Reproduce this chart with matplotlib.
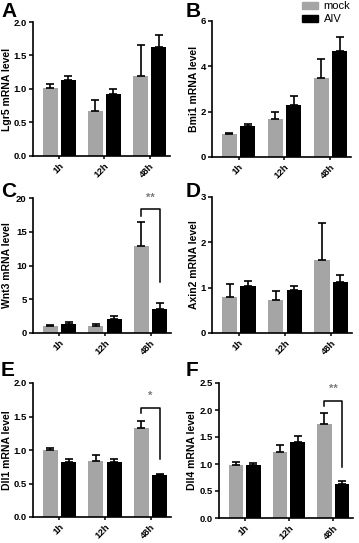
import numpy as np
import matplotlib
matplotlib.use("Agg")
import matplotlib.pyplot as plt
from matplotlib.patches import Patch

plt.rcParams['font.family'] = ['Liberation Sans', 'DejaVu Sans']
plt.rcParams['font.weight'] = 'bold'

groups = ['1h', '12h', '48h']

lgr5_mock = [1.01, 0.67, 1.19]
lgr5_mock_err = [0.07, 0.17, 0.46]
lgr5_aiv = [1.13, 0.93, 1.62]
lgr5_aiv_err = [0.06, 0.07, 0.18]

bmi1_mock = [1.00, 1.67, 3.47]
bmi1_mock_err = [0.07, 0.32, 0.85]
bmi1_aiv = [1.36, 2.30, 4.68]
bmi1_aiv_err = [0.11, 0.37, 0.63]

wnt3_mock = [0.99, 1.10, 12.9]
wnt3_mock_err = [0.15, 0.25, 3.5]
wnt3_aiv = [1.30, 2.10, 3.60]
wnt3_aiv_err = [0.30, 0.35, 0.90]

axin2_mock = [0.79, 0.73, 1.60]
axin2_mock_err = [0.28, 0.19, 0.83]
axin2_aiv = [1.04, 0.94, 1.13]
axin2_aiv_err = [0.10, 0.10, 0.14]

dll1_mock = [1.00, 0.84, 1.33]
dll1_mock_err = [0.03, 0.08, 0.10]
dll1_aiv = [0.82, 0.82, 0.63]
dll1_aiv_err = [0.05, 0.05, 0.01]

dll4_mock = [0.99, 1.22, 1.74]
dll4_mock_err = [0.05, 0.14, 0.21]
dll4_aiv = [0.98, 1.40, 0.63]
dll4_aiv_err = [0.04, 0.12, 0.06]

# (letter, ylabel, mock, mock_err, aiv, aiv_err, ymax, yticks, tick format)
panels = [
    ('A', 'Lgr5 mRNA level', lgr5_mock, lgr5_mock_err, lgr5_aiv, lgr5_aiv_err,
     2.0, [0, 0.5, 1.0, 1.5, 2.0], '{:.1f}'),
    ('B', 'Bmi1 mRNA level', bmi1_mock, bmi1_mock_err, bmi1_aiv, bmi1_aiv_err,
     6, [0, 2, 4, 6], '{:.0f}'),
    ('C', 'Wnt3 mRNA level', wnt3_mock, wnt3_mock_err, wnt3_aiv, wnt3_aiv_err,
     20, [0, 5, 10, 15, 20], '{:.0f}'),
    ('D', 'Axin2 mRNA level', axin2_mock, axin2_mock_err, axin2_aiv, axin2_aiv_err,
     3, [0, 1, 2, 3], '{:.0f}'),
    ('E', 'Dll1 mRNA level', dll1_mock, dll1_mock_err, dll1_aiv, dll1_aiv_err,
     2.0, [0, 0.5, 1.0, 1.5, 2.0], '{:.1f}'),
    ('F', 'Dll4 mRNA level', dll4_mock, dll4_mock_err, dll4_aiv, dll4_aiv_err,
     2.5, [0, 0.5, 1.0, 1.5, 2.0, 2.5], '{:.1f}'),
]

# significance brackets: panel -> (top, left leg bottom, right leg bottom, star y, label)
sig = {
    'C': (18.4, 17.3, 7.6, 19.3, '**'),
    'E': (1.63, 1.55, 0.87, 1.74, '*'),
    'F': (2.16, 2.07, 0.94, 2.30, '**'),
}

W, H = 359, 543
# axes boxes in pixels: left, right, top, bottom
boxes = [
    (33, 170, 22, 156), (212, 351, 21, 157),
    (33, 171, 198, 333), (212, 352, 197, 333),
    (33, 171, 383, 517), (219, 353, 383, 518),
]
letter_pos = [(1, 2), (186, 2), (1, 182), (186, 182), (1, 361), (186, 361)]
ylabel_right = [12, 199, 12, 199, 12, 197]

GRAY = '#a5a5a5'
BW = 0.33
OFF = 0.2

fig = plt.figure(figsize=(W / 100, H / 100), dpi=100)

x = np.arange(len(groups))
for i, (letter, ylabel, m, me, a, ae, ymax, yt, fmt) in enumerate(panels):
    l, r, t, b = boxes[i]
    ax = fig.add_axes([l / W, 1 - b / H, (r - l) / W, (b - t) / H])
    ax.bar(x - OFF, m, BW, color=GRAY, zorder=2)
    ax.bar(x + OFF, a, BW, color='black', zorder=2)
    ax.errorbar(x - OFF, m, yerr=[np.zeros(3), me], fmt='none', ecolor='black',
                elinewidth=1.2, capsize=2.6, capthick=1.2, zorder=3)
    ax.errorbar(x + OFF, a, yerr=[np.zeros(3), ae], fmt='none', ecolor='black',
                elinewidth=1.2, capsize=2.6, capthick=1.2, zorder=3)

    ax.set_xlim(-0.58, 2.45)
    ax.set_ylim(0, ymax)
    ax.set_yticks(yt)
    ax.set_yticklabels([fmt.format(v) for v in yt], fontsize=6.8, fontweight='bold')
    ax.set_xticks(x)
    ax.set_xticklabels(groups, rotation=45, ha='right', rotation_mode='anchor',
                       fontsize=6.8, fontweight='bold')
    ax.tick_params(axis='y', length=3, width=1.1, pad=1.5)
    ax.tick_params(axis='x', length=2, width=1.1, pad=2)
    for s in ['top', 'right']:
        ax.spines[s].set_visible(False)
    for s in ['left', 'bottom']:
        ax.spines[s].set_linewidth(1.2)
    ax.set_ylabel(ylabel, fontsize=7.5, fontweight='bold')
    ax.yaxis.set_label_coords((ylabel_right[i] - l) / (r - l), 0.5)

    lx, ly = letter_pos[i]
    fig.text(lx / W, 1 - ly / H, letter, fontsize=15, fontweight='bold', va='top', ha='left')

    if letter in sig:
        top, lb, rb, sy, lab = sig[letter]
        x0, x1 = 2 - OFF, 2 + OFF
        ax.plot([x0, x0, x1, x1], [lb, top, top, rb], color='black', lw=1.1, zorder=4)
        ax.text(2, sy, lab, ha='center', va='bottom', fontsize=8, color='#7a7a7a')

    if letter == 'B':
        handles = [Patch(color=GRAY, label='mock'), Patch(color='black', label='AIV')]
        ax.legend(handles=handles, loc='upper left', bbox_to_anchor=(301 / W, 1.0),
                  bbox_transform=fig.transFigure, frameon=False,
                  prop={'size': 8, 'weight': 'normal'}, handlelength=1.4,
                  handleheight=0.6, handletextpad=0.55, labelspacing=0.3,
                  borderaxespad=0, borderpad=0.1)

fig.savefig('out.png', dpi=100)
